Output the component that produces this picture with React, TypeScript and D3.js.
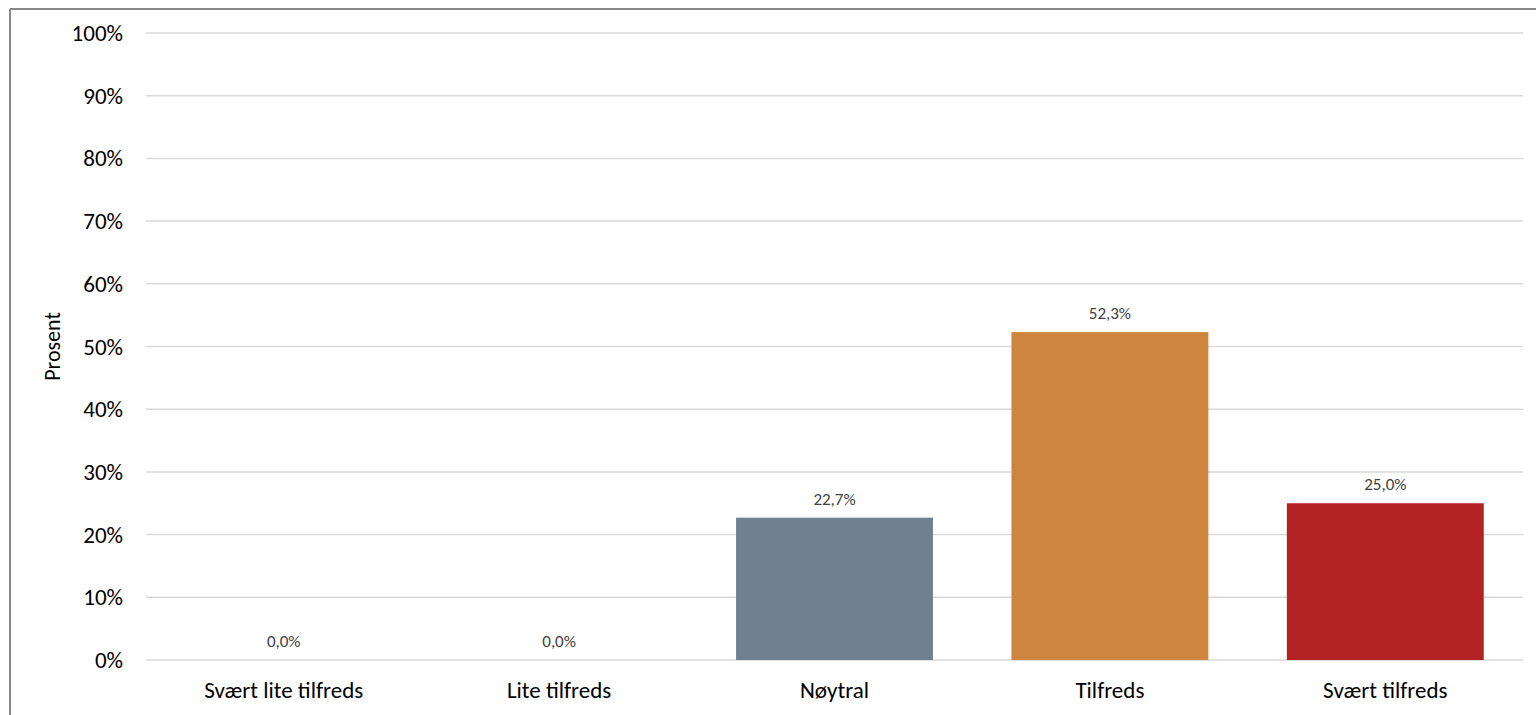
import React from "react";
import * as d3 from "d3";

const categories = ["Svært lite tilfreds", "Lite tilfreds", "Nøytral", "Tilfreds", "Svært tilfreds"];
const values = [0.0, 0.0, 22.7, 52.3, 25.0];
const colors = ["#708090", "#708090", "#708090", "#cd853f", "#b22222"];
const yTicks = [0, 10, 20, 30, 40, 50, 60, 70, 80, 90, 100];
const yTitle = "Prosent";

const W = 1536;
const H = 715;
const FONT = "Calibri, Carlito, 'Open Sans', sans-serif";

export default function App() {
  const left = 146, right = 1523, top = 33, bottom = 660;
  const x = d3.scaleBand<string>().domain(categories).range([left, right]).paddingInner(0.285).paddingOuter(0.1425);
  const y = d3.scaleLinear().domain([0, 100]).range([bottom, top]);
  const fmt = (v: number) => v.toFixed(1).replace(".", ",") + "%";
  return (
    <svg width={W} height={H} style={{ position: "absolute", left: 0, top: 0, background: "#fff" }}>
      <rect x={0} y={0} width={W} height={H} fill="#fff" />
      <line x1={10} y1={9} x2={W} y2={9} stroke="#888" strokeWidth={2} />
      <line x1={10} y1={9} x2={10} y2={H} stroke="#888" strokeWidth={2} />
      {yTicks.map((t) => (
        <g key={t}>
          <line x1={left} x2={right} y1={y(t)} y2={y(t)} stroke="#d9d9d9" strokeWidth={1.5} />
          <text x={123} y={y(t)} dy="0.35em" textAnchor="end" fontFamily={FONT} fontSize={23} fill="#000">
            {t}%
          </text>
        </g>
      ))}
      <text
        transform={`translate(52, ${(top + bottom) / 2}) rotate(-90)`}
        textAnchor="middle"
        dy="0.35em"
        fontFamily={FONT}
        fontSize={22}
        fill="#000"
      >
        {yTitle}
      </text>
      {categories.map((c, i) => {
        const v = values[i];
        const bx = x(c)!;
        const bw = x.bandwidth();
        return (
          <g key={c}>
            {v > 0 && <rect x={bx} y={y(v)} width={bw} height={y(0) - y(v)} fill={colors[i]} />}
            <text x={bx + bw / 2} y={y(v) - 19} dy="0.35em" textAnchor="middle" fontFamily={FONT} fontSize={17} fill="#404040">
              {fmt(v)}
            </text>
            <text x={bx + bw / 2} y={690} dy="0.35em" textAnchor="middle" fontFamily={FONT} fontSize={23} fill="#000">
              {c}
            </text>
          </g>
        );
      })}
    </svg>
  );
}
